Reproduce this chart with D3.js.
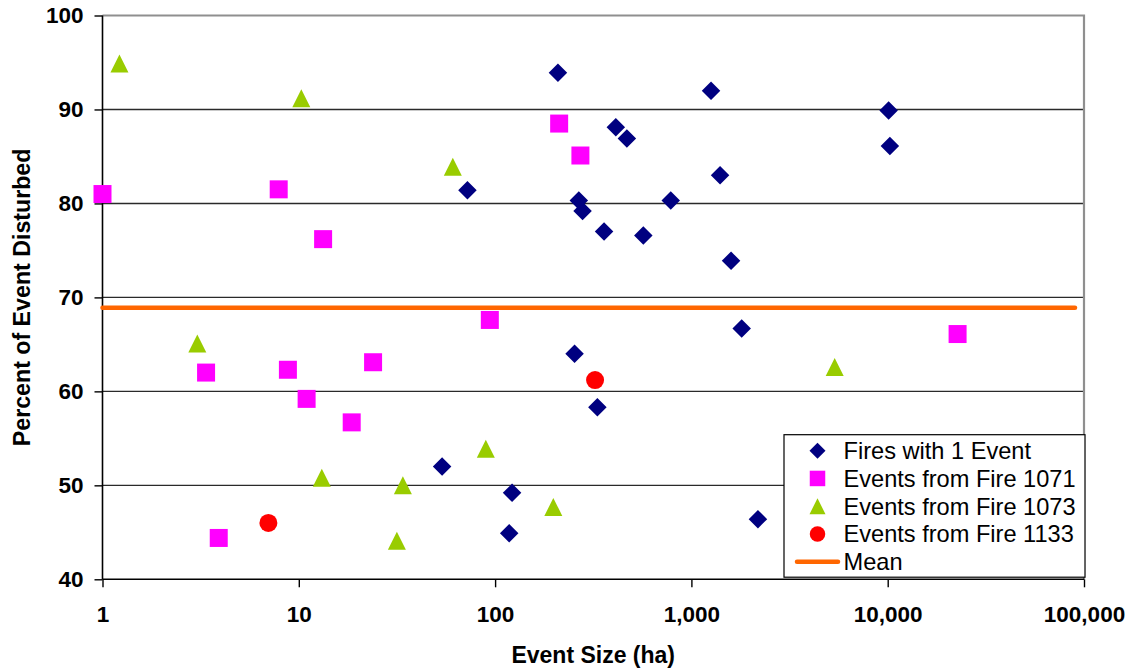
<!DOCTYPE html>
<html>
<head>
<meta charset="utf-8">
<script src="https://cdn.jsdelivr.net/npm/d3@7"></script>
<style>
  html, body { margin: 0; padding: 0; background: #fff; }
  svg { display: block; font-family: "Liberation Sans", Arial, sans-serif; }
</style>
</head>
<body>
<svg id="chart" width="1135" height="671"></svg>
<script>
// Event size (ha) and percent of event disturbed, by series
const fires1EventSize = [209, 1259, 412, 469, 1400, 72.3, 267, 279, 785, 359, 569, 1592, 10110, 10260, 1804, 254, 332, 53.7, 122, 118, 2183];
const fires1EventPct  = [93.9, 92.0, 88.1, 86.9, 83.0, 81.4, 80.3, 79.2, 80.3, 77.0, 76.6, 73.9, 89.9, 86.1, 66.7, 64.0, 58.3, 52.0, 49.2, 44.9, 46.4];

const fire1071Size = [1.0, 7.9, 13.3, 212, 272, 94, 3.37, 8.8, 10.96, 18.6, 23.9, 3.91, 22700];
const fire1071Pct  = [81.0, 81.5, 76.2, 88.5, 85.1, 67.6, 62.0, 62.3, 59.2, 56.7, 63.1, 44.4, 66.1];

const fire1073Size = [1.22, 10.3, 60.9, 3.04, 13.1, 33.9, 31.6, 89.7, 198, 5370];
const fire1073Pct  = [94.9, 91.2, 83.9, 65.1, 50.8, 50.0, 44.1, 53.9, 47.7, 62.6];

const fire1133Size = [7.0, 323];
const fire1133Pct  = [46.0, 61.2];

const meanPct = 68.9;
const meanSpan = [1, 90000];

const xTickValues = [1, 10, 100, 1000, 10000, 100000];
const yTickValues = [40, 50, 60, 70, 80, 90, 100];

const seriesNames = ["Fires with 1 Event", "Events from Fire 1071", "Events from Fire 1073", "Events from Fire 1133", "Mean"];
const seriesColors = ["#000080", "#FF00FF", "#99CC00", "#FF0000", "#FF6600"];

// Layout
const svg = d3.select("#chart");
const plot = { left: 102.5, right: 1084, top: 15.5, bottom: 579.3 };

const x = d3.scaleLog().domain([1, 100000]).range([plot.left, plot.right]);
const y = d3.scaleLinear().domain([40, 100]).range([plot.bottom, plot.top]);

// Marker shapes (centered at origin)
const markers = {
  diamond: s => `M0,${-s/2}L${s/2},0L0,${s/2}L${-s/2},0Z`,
  square: s => `M${-s/2},${-s/2}H${s/2}V${s/2}H${-s/2}Z`,
  triangle: s => `M0,${-s/2}L${s/2},${s/2}L${-s/2},${s/2}Z`,
  circle: s => `M${s/2},0A${s/2},${s/2} 0 1,1 ${-s/2},0A${s/2},${s/2} 0 1,1 ${s/2},0Z`
};

// Horizontal gridlines
svg.append("g")
  .selectAll("line")
  .data(yTickValues.filter(v => v > 40 && v < 100))
  .join("line")
  .attr("x1", plot.left).attr("x2", plot.right)
  .attr("y1", d => y(d)).attr("y2", d => y(d))
  .attr("stroke", "#2a2a2a").attr("stroke-width", 1.4);

// Top and right plot border
svg.append("path")
  .attr("d", `M${plot.left},${y(100)}H${plot.right}V${plot.bottom}`)
  .attr("fill", "none").attr("stroke", "#8f8f8f").attr("stroke-width", 2.2);

// Axes
const xAxis = d3.axisBottom(x)
  .tickValues(xTickValues)
  .tickFormat(d3.format(","))
  .tickSize(8).tickPadding(19);
const yAxis = d3.axisLeft(y)
  .tickValues(yTickValues)
  .tickFormat(d3.format("d"))
  .tickSize(8).tickPadding(11);

const gx = svg.append("g").attr("transform", `translate(0,${plot.bottom})`).call(xAxis);
const gy = svg.append("g").attr("transform", `translate(${plot.left},0)`).call(yAxis);

[gx, gy].forEach(g => {
  g.select(".domain").attr("stroke", "#000").attr("stroke-width", 1.6);
  g.selectAll(".tick line").attr("stroke", "#000").attr("stroke-width", 1.4);
  g.selectAll(".tick text")
    .attr("fill", "#000")
    .style("font-size", "22.5px")
    .style("font-weight", "bold")
    .style("font-family", "'Liberation Sans', Arial, sans-serif");
});
gx.select(".domain").attr("d", `M${plot.left},0H${plot.right}`);
gy.select(".domain").attr("d", `M0,${plot.bottom}V${plot.top}`);

// Axis titles
svg.append("text")
  .attr("x", (plot.left + plot.right) / 2).attr("y", 662.5)
  .attr("text-anchor", "middle")
  .style("font-size", "23px").style("font-weight", "bold")
  .text("Event Size (ha)");

svg.append("text")
  .attr("transform", `translate(29.5,${(plot.top + plot.bottom) / 2}) rotate(-90)`)
  .attr("text-anchor", "middle")
  .style("font-size", "23.2px").style("font-weight", "bold")
  .text("Percent of Event Disturbed");

// Scatter series
const series = [
  { sizes: fires1EventSize, pcts: fires1EventPct, shape: "diamond", s: 18.5, color: seriesColors[0] },
  { sizes: fire1071Size, pcts: fire1071Pct, shape: "square", s: 18, color: seriesColors[1] },
  { sizes: fire1073Size, pcts: fire1073Pct, shape: "triangle", s: 18, color: seriesColors[2] },
  { sizes: fire1133Size, pcts: fire1133Pct, shape: "circle", s: 18, color: seriesColors[3] }
];

series.forEach(sr => {
  svg.append("g")
    .selectAll("path")
    .data(sr.sizes.map((v, i) => [v, sr.pcts[i]]))
    .join("path")
    .attr("transform", d => `translate(${x(d[0])},${y(d[1])})`)
    .attr("d", markers[sr.shape](sr.s))
    .attr("fill", sr.color);
});

// Mean line
svg.append("path")
  .datum(meanSpan.map(v => [v, meanPct]))
  .attr("d", d3.line().x(d => x(d[0])).y(d => y(d[1])))
  .attr("fill", "none")
  .attr("stroke", seriesColors[4])
  .attr("stroke-width", 4.5)
  .attr("stroke-linecap", "round");

// Legend
const legend = { x: 784, y: 434.7, w: 301, h: 142.5 };
svg.append("rect")
  .attr("x", legend.x).attr("y", legend.y)
  .attr("width", legend.w).attr("height", legend.h)
  .attr("fill", "#fff").attr("stroke", "#000").attr("stroke-width", 1.2);

const legendShapes = ["diamond", "square", "triangle", "circle", null];
const legendSizes = [16, 15.5, 16, 15.5];
const rowY = i => 450.7 + i * 27.75;

const items = svg.append("g").selectAll("g")
  .data(seriesNames)
  .join("g")
  .attr("transform", (d, i) => `translate(0,${rowY(i)})`);

items.each(function(d, i) {
  const g = d3.select(this);
  if (legendShapes[i]) {
    g.append("path")
      .attr("transform", "translate(817.5,0)")
      .attr("d", markers[legendShapes[i]](legendSizes[i]))
      .attr("fill", seriesColors[i]);
  } else {
    g.append("line")
      .attr("x1", 797).attr("x2", 838)
      .attr("stroke", seriesColors[i]).attr("stroke-width", 4.5)
      .attr("stroke-linecap", "round");
  }
  g.append("text")
    .attr("x", 843.5).attr("dy", "0.36em")
    .style("font-size", "23.6px")
    .attr("fill", "#000")
    .text(d);
});
</script>
</body>
</html>
